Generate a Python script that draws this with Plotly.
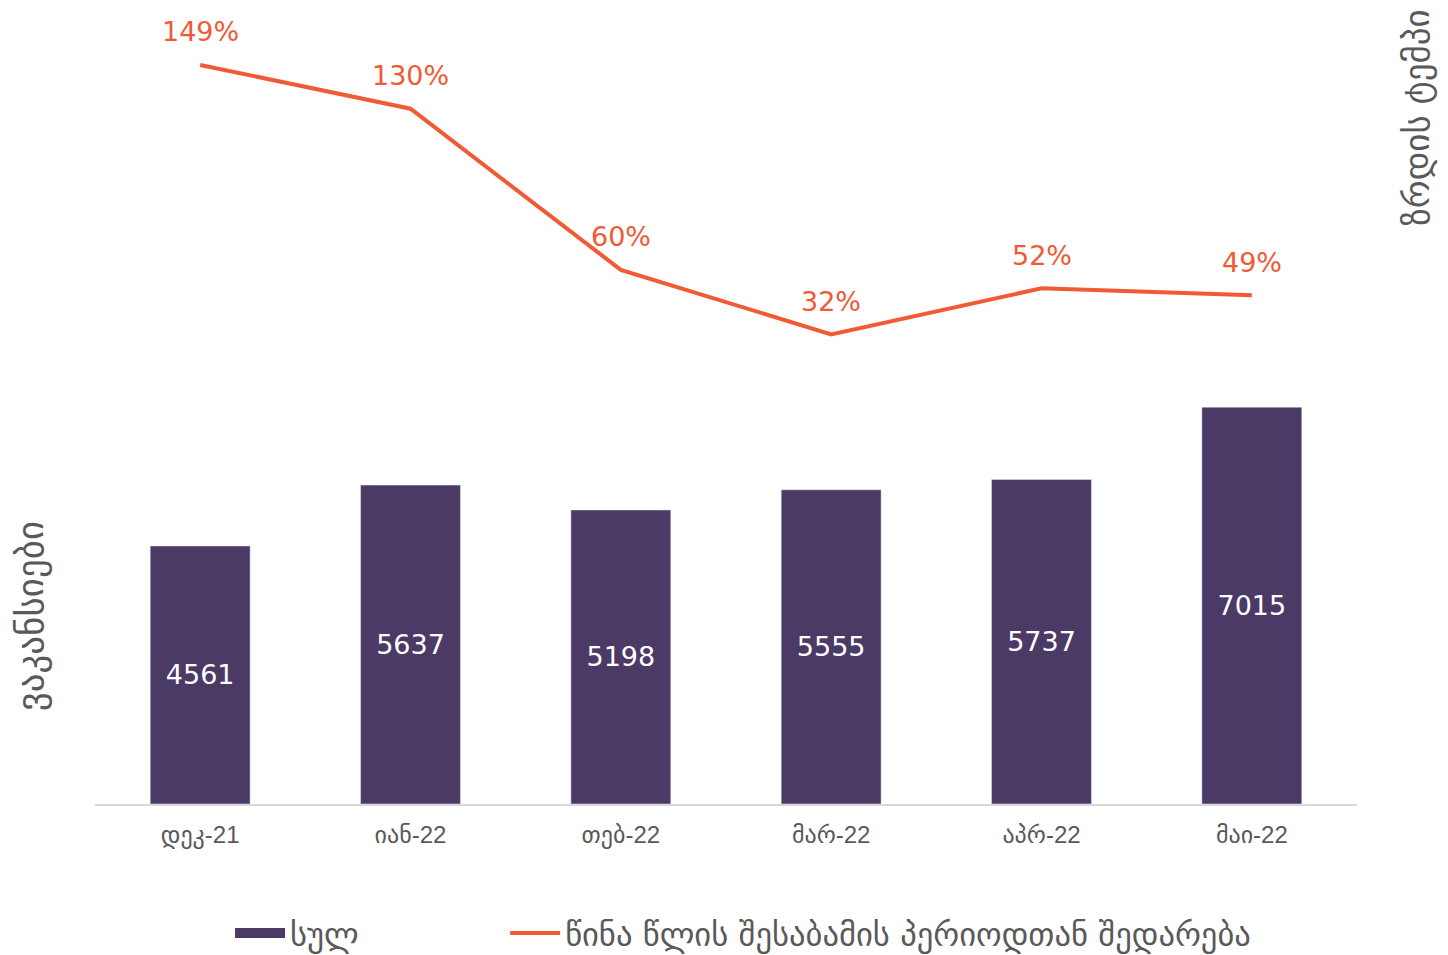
import plotly.graph_objects as go

categories = ["დეკ-21", "იან-22", "თებ-22", "მარ-22", "აპრ-22", "მაი-22"]
vacancies = [4561, 5637, 5198, 5555, 5737, 7015]
growth_pct = [149, 130, 60, 32, 52, 49]

BAR_COLOR = "#4B3A66"
LINE_COLOR = "#F05A35"
FONT = "DejaVu Sans"
TICK_FONT = "Liberation Sans, DejaVu Sans"
GRAY = "#595959"

fig = go.Figure()
fig.add_trace(go.Bar(
    x=categories, y=vacancies, name="სულ", showlegend=False,
    marker_color=BAR_COLOR, width=0.475,
    text=[str(v) for v in vacancies], textposition="inside",
    insidetextanchor="middle",
    textfont=dict(color="white", size=27, family=FONT),
    yaxis="y",
))
# legend entry for the bars (wide swatch like the reference)
fig.add_trace(go.Scatter(
    x=[None], y=[None], name="სულ", mode="lines",
    line=dict(color=BAR_COLOR, width=16), legend="legend",
))
fig.add_trace(go.Scatter(
    x=categories, y=growth_pct, name="წინა წლის შესაბამის პერიოდთან შედარება",
    mode="lines", line=dict(color=LINE_COLOR, width=4),
    yaxis="y2", legend="legend2",
))
for c, g in zip(categories, growth_pct):
    fig.add_annotation(x=c, y=g, yref="y2", text=f"{g}%", showarrow=False,
                       yshift=33, font=dict(color=LINE_COLOR, size=27, family=FONT))

fig.add_annotation(xref="paper", yref="paper", x=-0.0515, y=0.237, text="ვაკანსიები",
                   textangle=-90, showarrow=False, xanchor="center", yanchor="middle",
                   font=dict(size=37, color=GRAY, family=FONT))
fig.add_annotation(xref="paper", yref="paper", x=1.048, y=0.866, text="ზრდის ტემპი",
                   textangle=-90, showarrow=False, xanchor="center", yanchor="middle",
                   font=dict(size=35, color=GRAY, family=FONT))

legend_common = dict(orientation="h", yref="container", yanchor="middle", y=0.031,
                     xanchor="left",
                     font=dict(size=32.6, color=GRAY, family=FONT), itemwidth=50,
                     bgcolor="rgba(0,0,0,0)")
fig.update_layout(
    width=1448, height=955,
    margin=dict(l=87, r=99, t=4, b=159),
    plot_bgcolor="white", paper_bgcolor="white",
    font=dict(family=FONT, color=GRAY),
    showlegend=True,
    legend=dict(x=0.107, **legend_common),
    legend2=dict(x=0.325, **legend_common),
    xaxis=dict(showgrid=False, showline=True, linecolor="#D9D9D9", linewidth=2,
               tickfont=dict(size=24, color=GRAY, family=TICK_FONT), ticks="",
               ticklabelstandoff=8),
    yaxis=dict(range=[0, 14000], showgrid=False, showticklabels=False, zeroline=False),
    yaxis2=dict(range=[-172, 172], overlaying="y", side="right", showgrid=False,
                showticklabels=False, zeroline=False),
)

fig.write_html("out.html")
